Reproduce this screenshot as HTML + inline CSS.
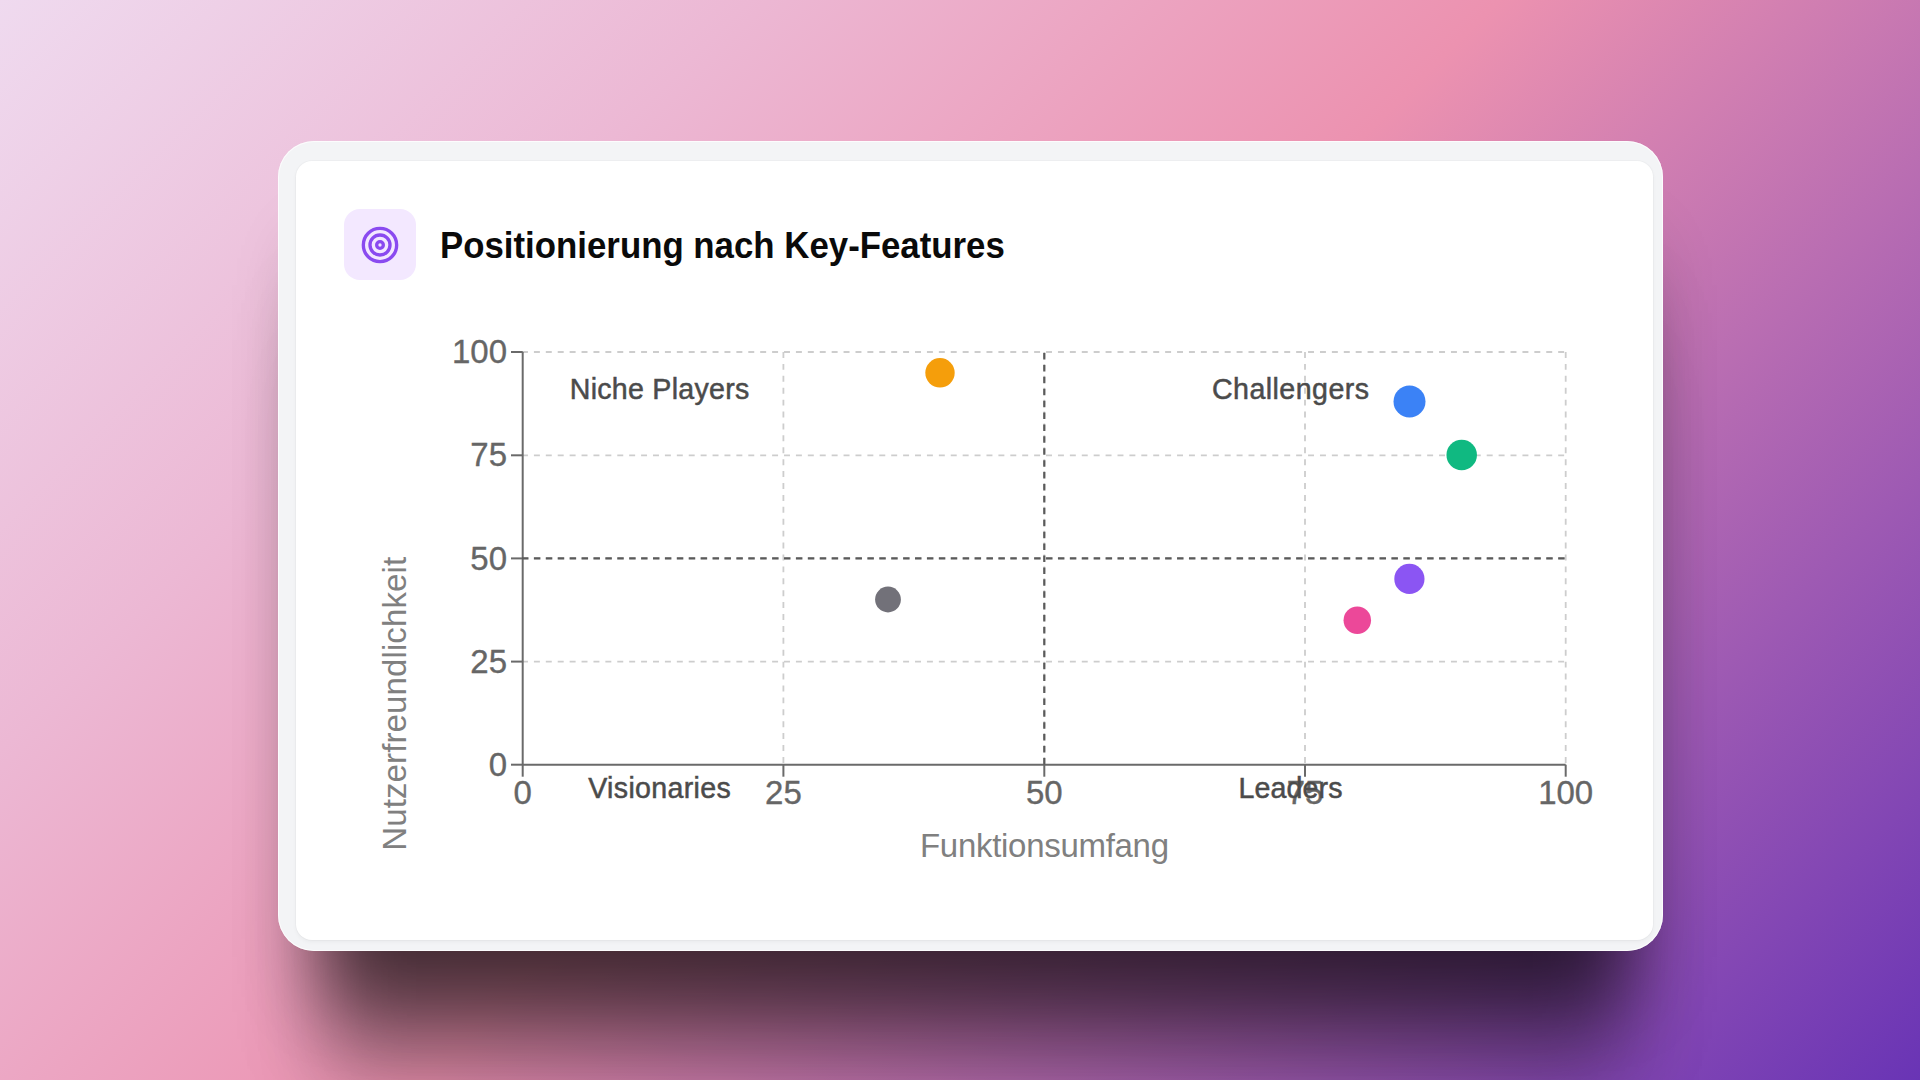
<!DOCTYPE html>
<html lang="de">
<head>
<meta charset="utf-8">
<title>Positionierung nach Key-Features</title>
<style>
  html, body { margin: 0; padding: 0; }
  body {
    width: 1920px; height: 1080px; overflow: hidden; position: relative;
    background: linear-gradient(135deg, #efdaef 0%, #ecb8d4 25%, #ec92b0 50%, #6934b5 100%);
    font-family: "Liberation Sans", sans-serif;
  }
  .outer {
    position: absolute; left: 278px; top: 141px; width: 1385px; height: 810px;
    background: #f3f4f6; border-radius: 36px;
    box-shadow: inset 0 0 0 1px rgba(255,255,255,0.75), 4px 74.7px 76px -42px rgba(0,0,0,0.476), 4px 130.1px 76px -42px rgba(0,0,0,0.392), 4px 187.3px 76px -42px rgba(0,0,0,0.167);
  }
  .inner {
    position: absolute; left: 18px; top: 20px; width: 1357px; height: 779px;
    background: #ffffff; border-radius: 16px;
    box-shadow: 0 0 0 1px rgba(0,0,0,0.02), 0 2px 4px rgba(0,0,0,0.045);
  }
  .iconbox {
    position: absolute; left: 344px; top: 208.7px; width: 71.6px; height: 71.3px;
    background: #f3e8ff; border-radius: 16px;
  }
  .iconbox svg { position: absolute; left: 15.8px; top: 16.4px; }
  .title {
    position: absolute; left: 440px; top: 221.7px; margin: 0;
    font-size: 36px; line-height: 48px; font-weight: 700; color: #0a0a0a;
    white-space: nowrap; transform-origin: 0 50%; transform: scaleX(0.967);
  }
  .chart { position: absolute; left: 0; top: 0; }
  .chart text { font-family: "Liberation Sans", sans-serif; }
</style>
</head>
<body>
  <div class="outer"><div class="inner"></div></div>
  <div class="iconbox">
    <svg width="40" height="40" viewBox="0 0 24 24" fill="none" stroke="#8a4af0" stroke-width="2" stroke-linecap="round" stroke-linejoin="round">
      <circle cx="12" cy="12" r="10"/><circle cx="12" cy="12" r="6"/><circle cx="12" cy="12" r="2"/>
    </svg>
  </div>
  <h3 class="title">Positionierung nach Key-Features</h3>
  <svg class="chart" width="1920" height="1080" viewBox="0 0 1920 1080">
    <!-- grid -->
    <g stroke="#cdcdcd" stroke-width="1.8" stroke-dasharray="5.955 5.955" fill="none">
      <line x1="522" y1="352" x2="1565.7" y2="352"/>
      <line x1="522" y1="455.3" x2="1565.7" y2="455.3"/>
      <line x1="522" y1="558.4" x2="1565.7" y2="558.4"/>
      <line x1="522" y1="661.6" x2="1565.7" y2="661.6"/>
      <line x1="783.4" y1="352" x2="783.4" y2="765"/>
      <line x1="1044.3" y1="352" x2="1044.3" y2="765"/>
      <line x1="1305" y1="352" x2="1305" y2="765"/>
      <line x1="1565.7" y1="352" x2="1565.7" y2="765"/>
    </g>
    <!-- axes -->
    <g stroke="#6a6a6a" stroke-width="2" fill="none">
      <line x1="522.7" y1="352" x2="522.7" y2="765"/>
      <line x1="522.7" y1="764.7" x2="1565.7" y2="764.7"/>
      <line x1="511" y1="352" x2="522.7" y2="352"/>
      <line x1="511" y1="455.3" x2="522.7" y2="455.3"/>
      <line x1="511" y1="558.4" x2="522.7" y2="558.4"/>
      <line x1="511" y1="661.6" x2="522.7" y2="661.6"/>
      <line x1="511" y1="764.7" x2="522.7" y2="764.7"/>
      <line x1="522.7" y1="764.7" x2="522.7" y2="776.7"/>
      <line x1="783.4" y1="764.7" x2="783.4" y2="776.7"/>
      <line x1="1044.3" y1="764.7" x2="1044.3" y2="776.7"/>
      <line x1="1305" y1="764.7" x2="1305" y2="776.7"/>
      <line x1="1565.7" y1="764.7" x2="1565.7" y2="776.7"/>
    </g>
    <!-- reference lines -->
    <g stroke="#5a5a5a" stroke-width="2.2" stroke-dasharray="6.5 5.41" fill="none">
      <line x1="522" y1="558.4" x2="1565.7" y2="558.4"/>
      <line x1="1044.3" y1="353" x2="1044.3" y2="765"/>
    </g>
    <!-- tick labels -->
    <g fill="#666" stroke="#666" stroke-width="0.35" font-size="33" text-anchor="end">
      <text x="507" y="363.2">100</text>
      <text x="507" y="466.4">75</text>
      <text x="507" y="569.5">50</text>
      <text x="507" y="672.7">25</text>
      <text x="507" y="775.9">0</text>
    </g>
    <g fill="#666" stroke="#666" stroke-width="0.35" font-size="33" text-anchor="middle">
      <text x="522.7" y="803.5">0</text>
      <text x="783.4" y="803.5">25</text>
      <text x="1044.3" y="803.5">50</text>
      <text x="1305" y="803.5">75</text>
      <text x="1565.7" y="803.5">100</text>
    </g>
    <!-- axis labels -->
    <text x="1044.5" y="856.7" fill="#808080" font-size="33" text-anchor="middle" textLength="249">Funktionsumfang</text>
    <text transform="translate(406,703.8) rotate(-90)" fill="#808080" font-size="33" text-anchor="middle" textLength="294">Nutzerfreundlichkeit</text>
    <!-- quadrant labels -->
    <g fill="#4b4b4b" stroke="#4b4b4b" stroke-width="0.5" font-size="28.6" text-anchor="middle">
      <text x="659.5" y="398.8" textLength="179.5">Niche Players</text>
      <text x="1290.5" y="398.8" textLength="157">Challengers</text>
      <text x="659.5" y="798" textLength="142.5">Visionaries</text>
      <text x="1290.5" y="798" textLength="104">Leaders</text>
    </g>
    <!-- points -->
    <circle cx="1409.5" cy="401.5" r="16" fill="#3b82f6"/>
    <circle cx="1461.7" cy="455" r="15.25" fill="#10b981"/>
    <circle cx="940" cy="372.8" r="14.7" fill="#f59e0b"/>
    <circle cx="1409.4" cy="578.9" r="15.1" fill="#8b55f3"/>
    <circle cx="1357.3" cy="620.2" r="13.75" fill="#ec4899"/>
    <circle cx="888" cy="599.5" r="12.9" fill="#727179"/>
  </svg>
</body>
</html>
